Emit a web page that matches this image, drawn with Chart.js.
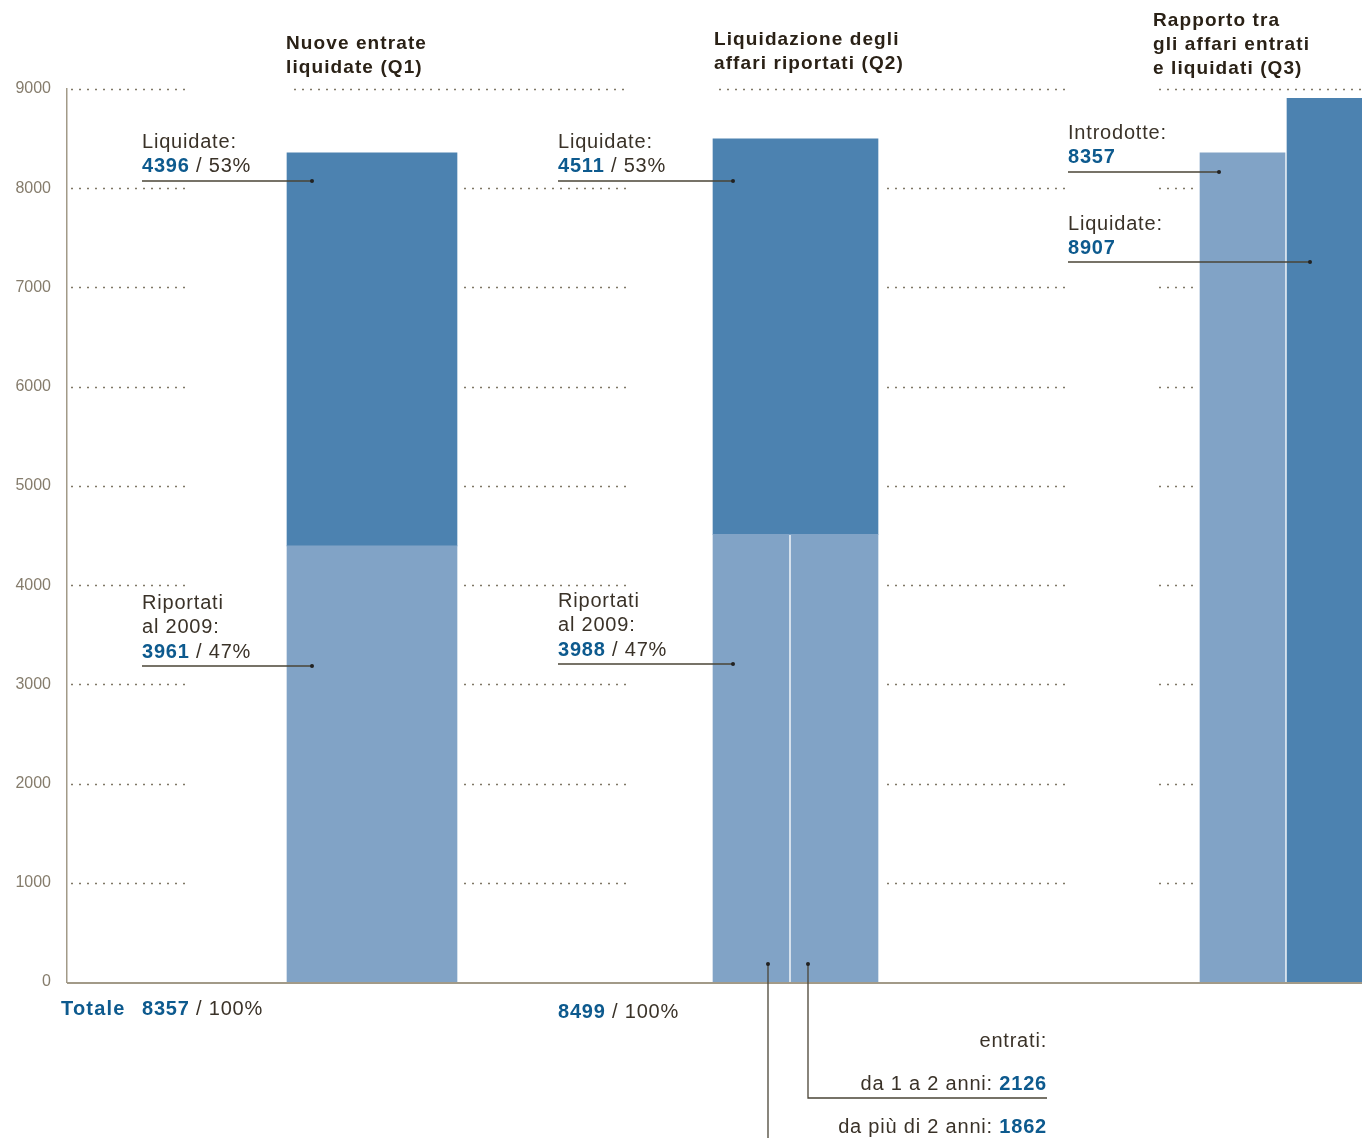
<!DOCTYPE html>
<html>
<head>
<meta charset="utf-8">
<script src="https://cdn.jsdelivr.net/npm/chart.js@4.4.1/dist/chart.umd.min.js"></script>
<style>
  html, body { margin: 0; padding: 0; background: #fff; }
  #wrap { position: relative; width: 1362px; height: 1138px; }
</style>
</head>
<body>
<div id="wrap"><canvas id="chart"></canvas></div>
<script>
// dati
const titles = [
    ['Nuove entrate', 'liquidate (Q1)'],
    ['Liquidazione degli', 'affari riportati (Q2)'],
    ['Rapporto tra', 'gli affari entrati', 'e liquidati (Q3)']
];
const liquidate = [4396, 4511];
const riportati = [3961, 3988];
const percLiquidate = [53, 53];
const percRiportati = [47, 47];
const totale = [8357, 8499];
const introdotte = 8357;
const liquidateQ3 = 8907;
const entratiLabels = ['da 1 a 2 anni', 'da più di 2 anni'];
const entrati = [2126, 1862];
const yTicks = [0, 1000, 2000, 3000, 4000, 5000, 6000, 7000, 8000, 9000];

// layout (unità dell'asse x = pixel dalla linea dell'asse)
const FONT = '"Liberation Sans", Arial, sans-serif';
const DARK = '#4c82b0';
const LIGHT = '#81a3c6';
const BLUE = '#0d5a8e';
const TEXT = '#3a3228';
const LINE = '#4a4436';

const q1x = 305, q2x = 728.5, q2aX = 684, q2bX = 767.5, q3aX = 1175.5, q3bX = 1262.5;

function bar(x, from, to, color, thickness) {
    return {
        data: [{ x: x, y: [from, to] }],
        backgroundColor: color,
        borderWidth: 0,
        barThickness: thickness,
        stack: 'one'
    };
}

const datasets = [
    bar(q1x, 0, liquidate[0], LIGHT, 170),
    bar(q1x, liquidate[0], liquidate[0] + riportati[0], DARK, 170),
    bar(q2aX, 0, liquidate[1], LIGHT, 76),
    bar(q2bX, 0, liquidate[1], LIGHT, 87),
    bar(q2x, liquidate[1], liquidate[1] + riportati[1], DARK, 165),
    bar(q3aX, 0, introdotte, LIGHT, 85),
    bar(q3bX, 0, liquidateQ3, DARK, 85)
];

function setFont(ctx, p) {
    ctx.font = (p.bold ? 'bold ' : '') + (p.size || 20) + 'px ' + FONT;
    ctx.letterSpacing = (p.ls !== undefined ? p.ls : 0.8) + 'px';
}

function runs(ctx, x, y, parts, align) {
    let w = 0;
    parts.forEach(p => {
        setFont(ctx, p);
        w += ctx.measureText(p.t).width;
    });
    let cx = align === 'right' ? x - w : x;
    ctx.textAlign = 'left';
    ctx.textBaseline = 'middle';
    parts.forEach(p => {
        setFont(ctx, p);
        ctx.fillStyle = p.color || TEXT;
        ctx.fillText(p.t, cx, y);
        cx += ctx.measureText(p.t).width;
    });
    ctx.letterSpacing = '0px';
}

function leader(ctx, pts, dot) {
    ctx.save();
    ctx.strokeStyle = LINE;
    ctx.lineWidth = 1.3;
    ctx.beginPath();
    ctx.moveTo(pts[0][0], pts[0][1]);
    for (let i = 1; i < pts.length; i++) ctx.lineTo(pts[i][0], pts[i][1]);
    ctx.stroke();
    if (dot) {
        ctx.fillStyle = '#222';
        ctx.beginPath();
        ctx.arc(dot[0], dot[1], 2, 0, Math.PI * 2);
        ctx.fill();
    }
    ctx.restore();
}

const gridTop = [[0, 123], [223, 563], [648, 1003], [1088, 1295]];
const gridRows = [[0, 123], [393, 563], [816, 1003], [1088, 1131]];

const decorPlugin = {
    id: 'decor',
    beforeDatasetsDraw(chart) {
        const ctx = chart.ctx, xs = chart.scales.x, ys = chart.scales.y;
        ctx.save();
        ctx.strokeStyle = '#7f7766';
        ctx.lineWidth = 1.3;
        ctx.setLineDash([2, 6]);
        yTicks.forEach(v => {
            if (v === 0) return;
            const y = Math.round(ys.getPixelForValue(v)) + 0.5;
            const segs = v === 9000 ? gridTop : gridRows;
            segs.forEach(s => {
                ctx.beginPath();
                ctx.moveTo(xs.getPixelForValue(s[0]) + 4, y);
                ctx.lineTo(xs.getPixelForValue(s[1]), y);
                ctx.stroke();
            });
        });
        ctx.restore();
    },
    afterDatasetsDraw(chart) {
        const ctx = chart.ctx, ys = chart.scales.y, a = chart.chartArea;
        ctx.save();
        ctx.strokeStyle = '#a29a88';
        ctx.lineWidth = 2;
        ctx.beginPath();
        ctx.moveTo(a.left, ys.getPixelForValue(0) + 1);
        ctx.lineTo(a.right, ys.getPixelForValue(0) + 1);
        ctx.stroke();
        ctx.restore();
    },
    afterDraw(chart) {
        const ctx = chart.ctx;
        ctx.save();
        // titoli
        const titlePos = [[286, 44], [714, 40], [1153, 21]];
        titles.forEach((lines, i) => {
            lines.forEach((l, j) => {
                runs(ctx, titlePos[i][0], titlePos[i][1] + j * 24, [{ t: l, bold: true, size: 19, ls: 1.1, color: '#2a2116' }]);
            });
        });
        // Q1 / Q2
        const colX = [142, 558];
        const anchorX = [312, 733];
        const ripY = [603, 601];
        for (let i = 0; i < 2; i++) {
            runs(ctx, colX[i], 142, [{ t: 'Liquidate:' }]);
            runs(ctx, colX[i], 166, [{ t: String(liquidate[i]), bold: true, color: BLUE }, { t: ' / ' + percLiquidate[i] + '%' }]);
            leader(ctx, [[colX[i], 181], [anchorX[i], 181]], [anchorX[i], 181]);
            runs(ctx, colX[i], ripY[i], [{ t: 'Riportati' }]);
            runs(ctx, colX[i], ripY[i] + 24, [{ t: 'al 2009:' }]);
            runs(ctx, colX[i], ripY[i] + 49, [{ t: String(riportati[i]), bold: true, color: BLUE }, { t: ' / ' + percRiportati[i] + '%' }]);
            leader(ctx, [[colX[i], ripY[i] + 63], [anchorX[i], ripY[i] + 63]], [anchorX[i], ripY[i] + 63]);
        }
        // Q3
        runs(ctx, 1068, 133, [{ t: 'Introdotte:' }]);
        runs(ctx, 1068, 157, [{ t: String(introdotte), bold: true, color: BLUE }]);
        leader(ctx, [[1068, 172], [1219, 172]], [1219, 172]);
        runs(ctx, 1068, 224, [{ t: 'Liquidate:' }]);
        runs(ctx, 1068, 248, [{ t: String(liquidateQ3), bold: true, color: BLUE }]);
        leader(ctx, [[1068, 262], [1310, 262]], [1310, 262]);
        // totali
        runs(ctx, 61, 1009, [{ t: 'Totale', bold: true, color: BLUE, ls: 1.2 }]);
        runs(ctx, 142, 1009, [{ t: String(totale[0]), bold: true, color: BLUE }, { t: ' / 100%' }]);
        runs(ctx, 558, 1012, [{ t: String(totale[1]), bold: true, color: BLUE }, { t: ' / 100%' }]);
        // entrati
        runs(ctx, 1047, 1041, [{ t: 'entrati:' }], 'right');
        runs(ctx, 1047, 1084, [{ t: entratiLabels[0] + ': ' }, { t: String(entrati[0]), bold: true, color: BLUE }], 'right');
        runs(ctx, 1047, 1127, [{ t: entratiLabels[1] + ': ' }, { t: String(entrati[1]), bold: true, color: BLUE }], 'right');
        leader(ctx, [[808, 964], [808, 1098], [1047, 1098]], [808, 964]);
        leader(ctx, [[768, 964], [768, 1140]], [768, 964]);
        ctx.restore();
    }
};

new Chart(document.getElementById('chart'), {
    type: 'bar',
    data: { datasets: datasets },
    plugins: [decorPlugin],
    options: {
        responsive: true,
        maintainAspectRatio: false,
        animation: false,
        layout: { padding: { left: 0, right: 0, top: 89, bottom: 156 } },
        plugins: { legend: { display: false }, tooltip: { enabled: false } },
        scales: {
            x: { type: 'linear', display: false, offset: false, min: 0, max: 1295 },
            y: {
                min: 0,
                max: 9000,
                stacked: false,
                afterFit(s) { s.width = 67; },
                afterBuildTicks(s) { s.ticks = yTicks.map(v => ({ value: v })); },
                border: { display: true, color: '#a29a88', width: 1.5 },
                grid: { display: false, drawTicks: false },
                ticks: { color: '#857c6c', padding: 16, font: { size: 16, family: FONT }, callback: v => String(v) }
            }
        }
    }
});
</script>
</body>
</html>
